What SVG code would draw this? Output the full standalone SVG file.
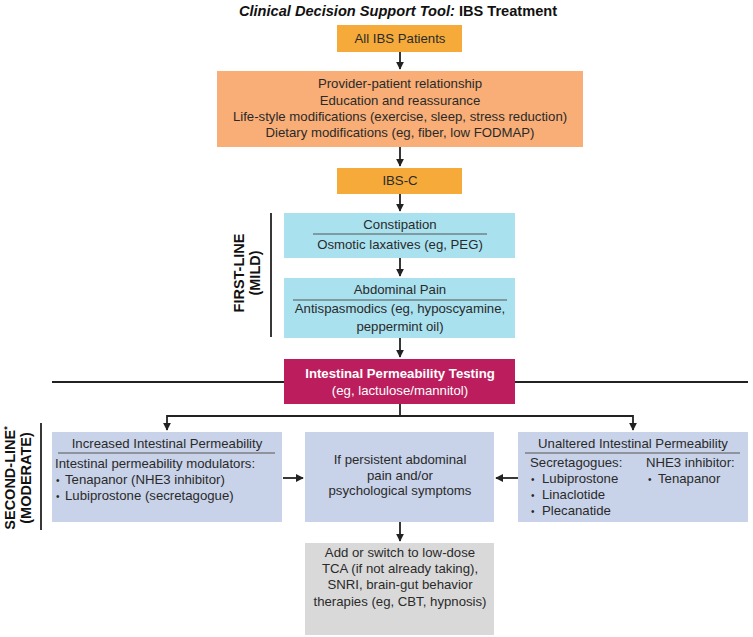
<svg xmlns="http://www.w3.org/2000/svg" width="753" height="637" viewBox="0 0 753 637">
<defs>
<style>
text{font-family:"Liberation Sans",Arial,sans-serif;font-size:13.2px;fill:#2a2a2a}
.c{text-anchor:middle}
.title{font-size:14.6px;font-weight:bold;fill:#111}
.side{font-size:14.5px;font-weight:bold;fill:#111;text-anchor:middle}
.w{fill:#fff}
.wb{fill:#fff;font-weight:bold}
.gold{fill:#F5AA3A}
.salmon{fill:#F8AE76}
.cyan{fill:#A9E1EF}
.mag{fill:#BC1E5D}
.blue{fill:#C8D2E8}
.gray{fill:#D9D9D9}
.ln{stroke:#222;stroke-width:1.8;fill:none}
.div{stroke:#555;stroke-width:1}
.b{font-size:10px}
</style>
<marker id="ah" viewBox="0 0 10 10" refX="9" refY="5" markerWidth="4.5" markerHeight="4.5" orient="auto" markerUnits="strokeWidth">
<path d="M0,0 L10,5 L0,10 Z" fill="#222"/>
</marker>
</defs>
<rect width="753" height="637" fill="#fff"/>
<text class="title c" x="398" y="16"><tspan font-style="italic">Clinical Decision Support Tool:</tspan> IBS Treatment</text>

<g id="connectors">
<line class="ln" x1="400" y1="52" x2="400" y2="69" marker-end="url(#ah)"/>
<line class="ln" x1="400" y1="147" x2="400" y2="166" marker-end="url(#ah)"/>
<line class="ln" x1="400" y1="194" x2="400" y2="211" marker-end="url(#ah)"/>
<line class="ln" x1="400" y1="258" x2="400" y2="276" marker-end="url(#ah)"/>
<line class="ln" x1="400" y1="338" x2="400" y2="357" marker-end="url(#ah)"/>
<polyline class="ln" points="400,404 400,416"/>
<polyline class="ln" points="167,416 633,416"/>
<line class="ln" x1="167" y1="415" x2="167" y2="430" marker-end="url(#ah)"/>
<line class="ln" x1="633" y1="415" x2="633" y2="430" marker-end="url(#ah)"/>
<line class="ln" x1="283" y1="478" x2="303" y2="478" marker-end="url(#ah)"/>
<line class="ln" x1="518" y1="478" x2="496" y2="478" marker-end="url(#ah)"/>
<line class="ln" x1="400" y1="522" x2="400" y2="541" marker-end="url(#ah)"/>
</g>

<g id="dividers">
<line class="ln" x1="52" y1="382" x2="284" y2="382"/>
<line class="ln" x1="515" y1="382" x2="748" y2="382"/>
<line class="ln" x1="271" y1="213" x2="271" y2="337"/>
<line class="ln" x1="41" y1="423" x2="41" y2="530"/>
<text class="side" transform="translate(244,273) rotate(-90)">FIRST-LINE</text>
<text class="side" transform="translate(260,273) rotate(-90)">(MILD)</text>
<text class="side" transform="translate(15,478) rotate(-90)">SECOND-LINE<tspan font-size="9" dy="-5">*</tspan></text>
<text class="side" transform="translate(31,478) rotate(-90)">(MODERATE)</text>
</g>

<g id="all-ibs">
<rect class="gold" x="337" y="25" width="125" height="27"/>
<text class="c" x="400" y="43">All IBS Patients</text>
</g>

<g id="general">
<rect class="salmon" x="217" y="71" width="366" height="76"/>
<text class="c" x="400" y="88">Provider-patient relationship</text>
<text class="c" x="400" y="105">Education and reassurance</text>
<text class="c" x="400" y="121">Life-style modifications (exercise, sleep, stress reduction)</text>
<text class="c" x="400" y="137">Dietary modifications (eg, fiber, low FODMAP)</text>
</g>

<g id="ibs-c">
<rect class="gold" x="337" y="168" width="125" height="26"/>
<text class="c" x="400" y="185">IBS-C</text>
</g>

<g id="constipation">
<rect class="cyan" x="284" y="213" width="231" height="45"/>
<text class="c" x="400" y="229">Constipation</text>
<line class="div" x1="313" y1="234" x2="487" y2="234"/>
<text class="c" x="400" y="249">Osmotic laxatives (eg, PEG)</text>
</g>

<g id="abdominal-pain">
<rect class="cyan" x="284" y="278" width="231" height="60"/>
<text class="c" x="400" y="294">Abdominal Pain</text>
<line class="div" x1="293" y1="300" x2="507" y2="300"/>
<text class="c" x="400" y="313">Antispasmodics (eg, hyposcyamine,</text>
<text class="c" x="400" y="331">peppermint oil)</text>
</g>

<g id="testing">
<rect class="mag" x="284" y="359" width="231" height="45"/>
<text class="c wb" x="400" y="378">Intestinal Permeability Testing</text>
<text class="c w" x="400" y="395">(eg, lactulose/mannitol)</text>
</g>

<g id="increased">
<rect class="blue" x="52" y="432" width="230" height="90"/>
<text class="c" x="167" y="448">Increased Intestinal Permeability</text>
<line class="div" x1="58" y1="453" x2="275" y2="453"/>
<text x="55" y="468">Intestinal permeability modulators:</text>
<text x="56" y="484"><tspan class="b">•</tspan><tspan x="65">Tenapanor (NHE3 inhibitor)</tspan></text>
<text x="56" y="500"><tspan class="b">•</tspan><tspan x="65">Lubiprostone (secretagogue)</tspan></text>
</g>

<g id="persistent">
<rect class="blue" x="305" y="432" width="189" height="90"/>
<text class="c" x="400" y="464">If persistent abdominal</text>
<text class="c" x="400" y="480">pain and/or</text>
<text class="c" x="400" y="495">psychological symptoms</text>
</g>

<g id="unaltered">
<rect class="blue" x="518" y="432" width="230" height="90"/>
<text class="c" x="633" y="448">Unaltered Intestinal Permeability</text>
<line class="div" x1="525" y1="453" x2="740" y2="453"/>
<text x="530" y="467">Secretagogues:</text>
<text x="531" y="483"><tspan class="b">•</tspan><tspan x="542">Lubiprostone</tspan></text>
<text x="531" y="499"><tspan class="b">•</tspan><tspan x="542">Linaclotide</tspan></text>
<text x="531" y="515"><tspan class="b">•</tspan><tspan x="542">Plecanatide</tspan></text>
<text x="646" y="467">NHE3 inhibitor:</text>
<text x="648" y="483"><tspan class="b">•</tspan><tspan x="658">Tenapanor</tspan></text>
</g>

<g id="add-switch">
<rect class="gray" x="305" y="543" width="189" height="92"/>
<text class="c" x="400" y="557">Add or switch to low-dose</text>
<text class="c" x="400" y="573">TCA (if not already taking),</text>
<text class="c" x="400" y="589">SNRI, brain-gut behavior</text>
<text class="c" x="400" y="606">therapies (eg, CBT, hypnosis)</text>
</g>
</svg>
